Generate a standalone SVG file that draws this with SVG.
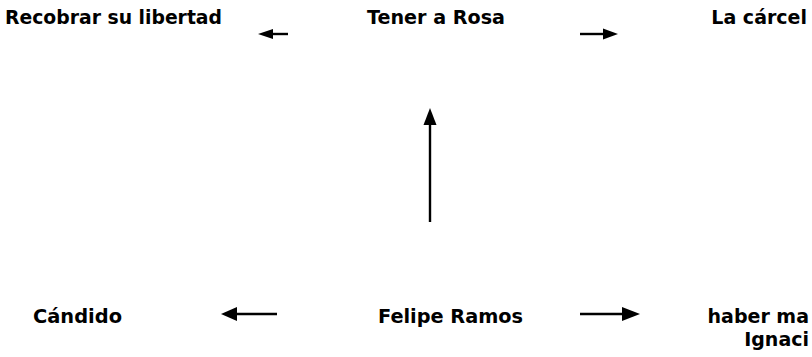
<svg xmlns="http://www.w3.org/2000/svg" width="812" height="357" viewBox="0 0 812 357">
  <style>
    .lbl { font-family: "DejaVu Sans", "Liberation Sans", sans-serif; font-size: 20px; font-weight: bold; fill: #000; }
    .rt { font-size: 19px; text-anchor: end; }
    .ln { stroke: #000; stroke-width: 2.4; fill: none; }
    .hd { fill: #000; }
  </style>
  <rect width="812" height="357" fill="#fff"/>

  <g id="recobrar"><text class="lbl" x="5" y="24" textLength="217" lengthAdjust="spacingAndGlyphs">Recobrar su libertad</text></g>
  <g id="tener"><text class="lbl" x="367" y="24" textLength="138" lengthAdjust="spacingAndGlyphs">Tener a Rosa</text></g>
  <g id="carcel"><text class="lbl rt" x="807" y="24">La cárcel</text></g>
  <g id="candido"><text class="lbl" x="33" y="323" textLength="89" lengthAdjust="spacingAndGlyphs">Cándido</text></g>
  <g id="felipe"><text class="lbl" x="378" y="323" textLength="145" lengthAdjust="spacingAndGlyphs">Felipe Ramos</text></g>
  <g id="haber">
    <text class="lbl rt" x="809" y="323">haber ma</text>
    <text class="lbl rt" x="809" y="346">Ignaci</text>
  </g>

  <g id="connectors">
    <!-- Tener a Rosa -> Recobrar su libertad -->
    <line class="ln" x1="270" y1="34" x2="288" y2="34"/>
    <polygon class="hd" points="258,34 273,29 273,39"/>
    <!-- Tener a Rosa -> La cárcel -->
    <line class="ln" x1="580" y1="34" x2="605" y2="34"/>
    <polygon class="hd" points="618,34 603,28.5 603,39.5"/>
    <!-- Felipe Ramos -> Tener a Rosa -->
    <line class="ln" x1="430" y1="123" x2="430" y2="222"/>
    <polygon class="hd" points="430,108 423.5,125 436.5,125"/>
    <!-- Felipe Ramos -> Cándido -->
    <line class="ln" x1="235" y1="314" x2="277" y2="314"/>
    <polygon class="hd" points="221,314 237,307 237,321"/>
    <!-- Felipe Ramos -> haber ma / Ignaci -->
    <line class="ln" x1="580" y1="314" x2="624" y2="314"/>
    <polygon class="hd" points="640,314 622,307 622,321"/>
  </g>
</svg>
